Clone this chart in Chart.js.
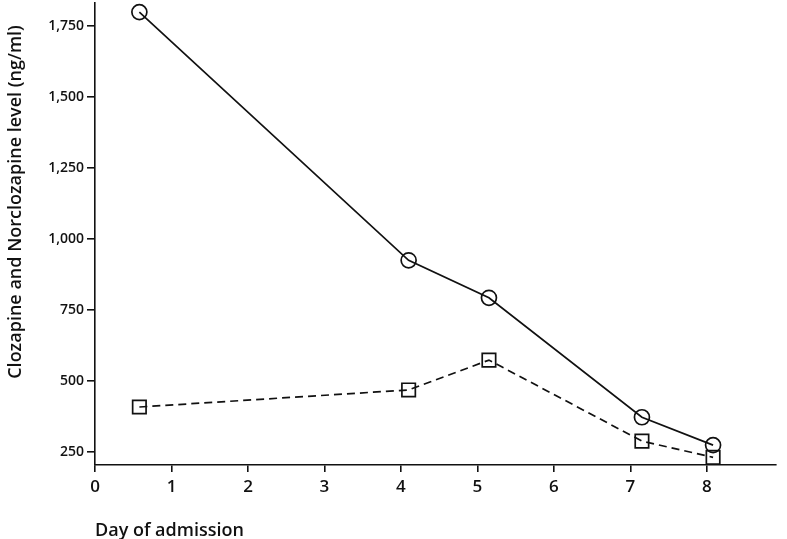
<!DOCTYPE html>
<html>
<head>
<meta charset="utf-8">
<script src="https://cdn.jsdelivr.net/npm/chart.js@4/dist/chart.umd.min.js"></script>
<style>
  html, body { margin: 0; padding: 0; background: #fff; }
  #wrap { width: 787px; height: 539px; position: relative; }
</style>
</head>
<body>
<div id="wrap"><canvas id="c"></canvas></div>
<script>
const clozapineDays = [0.58, 4.1, 5.15, 7.15, 8.08];
const clozapineLevels = [1798, 925, 793, 373, 275];
const norclozapineDays = [0.58, 4.1, 5.15, 7.15, 8.08];
const norclozapineLevels = [409, 469, 574, 289, 232];
const xTickValues = [0, 1, 2, 3, 4, 5, 6, 7, 8];
const yTickValues = [250, 500, 750, 1000, 1250, 1500, 1750];
const yTitleText = 'Clozapine and Norclozapine level (ng/ml)';

const FONT = "'Open Sans', 'Noto Sans', sans-serif";

function toPoints(xs, ys) { return xs.map((x, i) => ({ x: x, y: ys[i] })); }

const yTitlePlugin = {
  id: 'yTitle',
  afterLayout(chart) {
    // extend the plot area up to the top margin
    const top = 3;
    const y = chart.scales.y;
    chart.chartArea.top = top;
    chart.chartArea.height = chart.chartArea.bottom - top;
    y.top = top;
    y.height = y.bottom - top;
    y.configure();
  },
  afterDraw(chart) {
    const ctx = chart.ctx;
    ctx.save();
    ctx.translate(16, 202);
    ctx.rotate(-Math.PI / 2);
    ctx.fillStyle = '#111';
    ctx.font = "600 18px " + FONT;
    ctx.textAlign = 'center';
    ctx.textBaseline = 'middle';
    ctx.fillText(yTitleText, 0, 0);
    ctx.restore();
  }
};

new Chart(document.getElementById('c'), {
  type: 'scatter',
  data: {
    datasets: [
      {
        label: 'Clozapine',
        data: toPoints(clozapineDays, clozapineLevels),
        showLine: true,
        clip: false,
        borderColor: '#111',
        borderWidth: 1.7,
        pointStyle: 'circle',
        pointRadius: 7.5,
        pointBorderWidth: 1.7,
        pointBackgroundColor: 'rgba(0,0,0,0)',
        pointBorderColor: '#111'
      },
      {
        label: 'Norclozapine',
        data: toPoints(norclozapineDays, norclozapineLevels),
        showLine: true,
        clip: false,
        borderColor: '#111',
        borderWidth: 1.7,
        borderDash: [8, 5],
        pointStyle: 'rect',
        pointRadius: 9.5,
        pointBorderWidth: 1.7,
        pointBackgroundColor: 'rgba(0,0,0,0)',
        pointBorderColor: '#111'
      }
    ]
  },
  plugins: [yTitlePlugin],
  options: {
    responsive: true,
    maintainAspectRatio: false,
    animation: false,
    layout: { padding: { top: 3, right: 7, bottom: 0, left: 0 } },
    plugins: { legend: { display: false }, tooltip: { enabled: false } },
    scales: {
      x: {
        type: 'linear',
        min: 0,
        max: 8.9,
        afterBuildTicks: s => { s.ticks = xTickValues.map(v => ({ value: v })); },
        afterFit: s => { s.height = 74; },
        grid: { drawOnChartArea: false, color: '#111', tickLength: 7, lineWidth: 1.6 },
        border: { color: '#111', width: 1.6 },
        ticks: { color: '#111', font: { family: FONT, size: 17, weight: 600 }, padding: 5, maxRotation: 0 },
        title: {
          display: true, text: 'Day of admission', align: 'start',
          color: '#111', font: { family: FONT, size: 18, weight: 600 }, padding: { top: 0, bottom: -3 }
        }
      },
      y: {
        type: 'linear',
        min: 205,
        max: 1830,
        afterBuildTicks: s => { s.ticks = yTickValues.map(v => ({ value: v })); },
        afterFit: s => { s.width = 95; },
        grid: { drawOnChartArea: false, color: '#111', tickLength: 8, lineWidth: 1.6 },
        border: { color: '#111', width: 1.6 },
        ticks: {
          color: '#111', font: { family: FONT, size: 14, weight: 600 }, padding: 3,
          callback: v => Number(v).toLocaleString('en-US')
        },
        title: { display: false }
      }
    }
  }
});
</script>
</body>
</html>
